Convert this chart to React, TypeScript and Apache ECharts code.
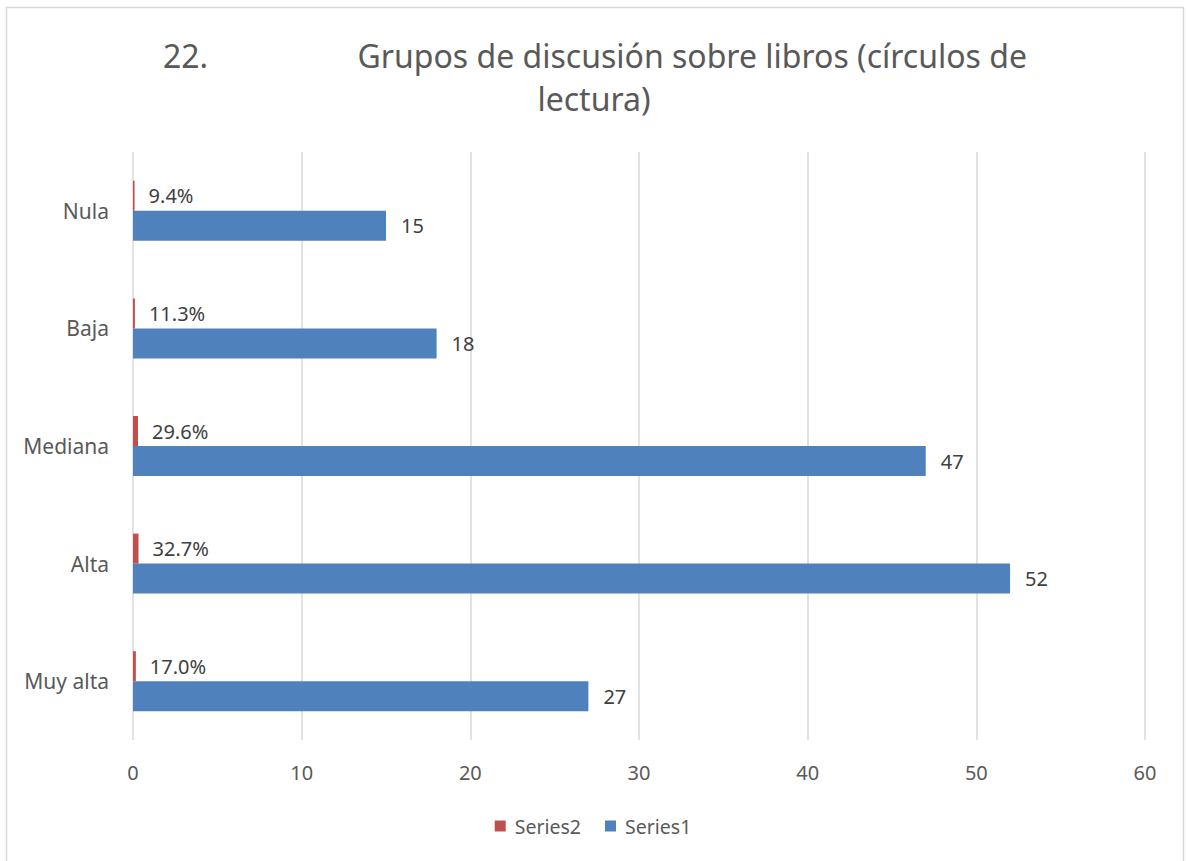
import React, { useEffect, useRef } from "react";
import * as echarts from "echarts";

const categories = ["Muy alta", "Alta", "Mediana", "Baja", "Nula"];
const series1Values = [27, 52, 47, 18, 15];
const series2Values = [0.17, 0.327, 0.296, 0.113, 0.094];
const xTicks = [0, 10, 20, 30, 40, 50, 60];
const titleNumber = "22.";
const titleLine1 = "Grupos de discusión sobre libros (círculos de";
const titleLine2 = "lectura)";

export default function App() {
  const ref = useRef<HTMLDivElement>(null);
  useEffect(() => {
    if (!ref.current) return;
    const chart = echarts.init(ref.current, null, { renderer: "svg" });
    const font = "'Noto Sans', sans-serif";
    const titleStyle = { fontFamily: font, fontSize: 32, fill: "#595959" };
    chart.setOption({
      animation: false,
      backgroundColor: "#ffffff",
      textStyle: { fontFamily: font },
      graphic: [
        {
          type: "rect",
          shape: { x: 6.5, y: 7.5, width: 1177, height: 870 },
          style: { fill: "none", stroke: "#d9d9d9", lineWidth: 1.5 },
          silent: true,
          z: -1,
        },
        {
          type: "text",
          x: 163,
          y: 55,
          style: { ...titleStyle, text: titleNumber, textAlign: "left", textVerticalAlign: "middle" },
        },
        {
          type: "text",
          x: 1027,
          y: 55,
          style: { ...titleStyle, text: titleLine1, textAlign: "right", textVerticalAlign: "middle" },
        },
        {
          type: "text",
          x: 594,
          y: 98,
          style: { ...titleStyle, text: titleLine2, textAlign: "center", textVerticalAlign: "middle" },
        },
      ],
      legend: {
        bottom: 20,
        left: "center",
        itemWidth: 11,
        itemHeight: 11,
        itemGap: 24,
        icon: "rect",
        data: ["Series2", "Series1"],
        textStyle: { fontFamily: font, fontSize: 19.5, color: "#595959", padding: [0, 0, 0, 4] },
      },
      grid: { left: 133, right: 41, top: 152, bottom: 121 },
      xAxis: {
        type: "value",
        min: xTicks[0],
        max: xTicks[xTicks.length - 1],
        interval: 10,
        axisLine: { show: false },
        axisTick: { show: false },
        axisLabel: { fontFamily: font, fontSize: 20, color: "#595959", margin: 22 },
        splitLine: { lineStyle: { color: "#d9d9d9", width: 1.5 } },
      },
      yAxis: {
        type: "category",
        data: categories,
        axisLine: { show: false },
        axisTick: { show: false },
        axisLabel: { fontFamily: font, fontSize: 21, color: "#595959", margin: 24 },
      },
      series: [
        {
          name: "Series2",
          type: "bar",
          data: series2Values,
          barWidth: 30,
          barGap: "0%",
          itemStyle: { color: "#c0504d" },
          label: {
            show: true,
            position: "right",
            distance: 14,
            fontFamily: font,
            fontSize: 20,
            color: "#404040",
            formatter: (p: any) => (p.value * 100).toFixed(1) + "%",
          },
        },
        {
          name: "Series1",
          type: "bar",
          data: series1Values,
          barWidth: 30,
          barGap: "0%",
          itemStyle: { color: "#4f81bd" },
          label: {
            show: true,
            position: "right",
            distance: 15,
            fontFamily: font,
            fontSize: 20,
            color: "#404040",
          },
        },
      ],
    });
    return () => chart.dispose();
  }, []);
  return (
    <div
      ref={ref}
      style={{ position: "fixed", left: 0, top: 0, width: 1186, height: 861 }}
    />
  );
}
